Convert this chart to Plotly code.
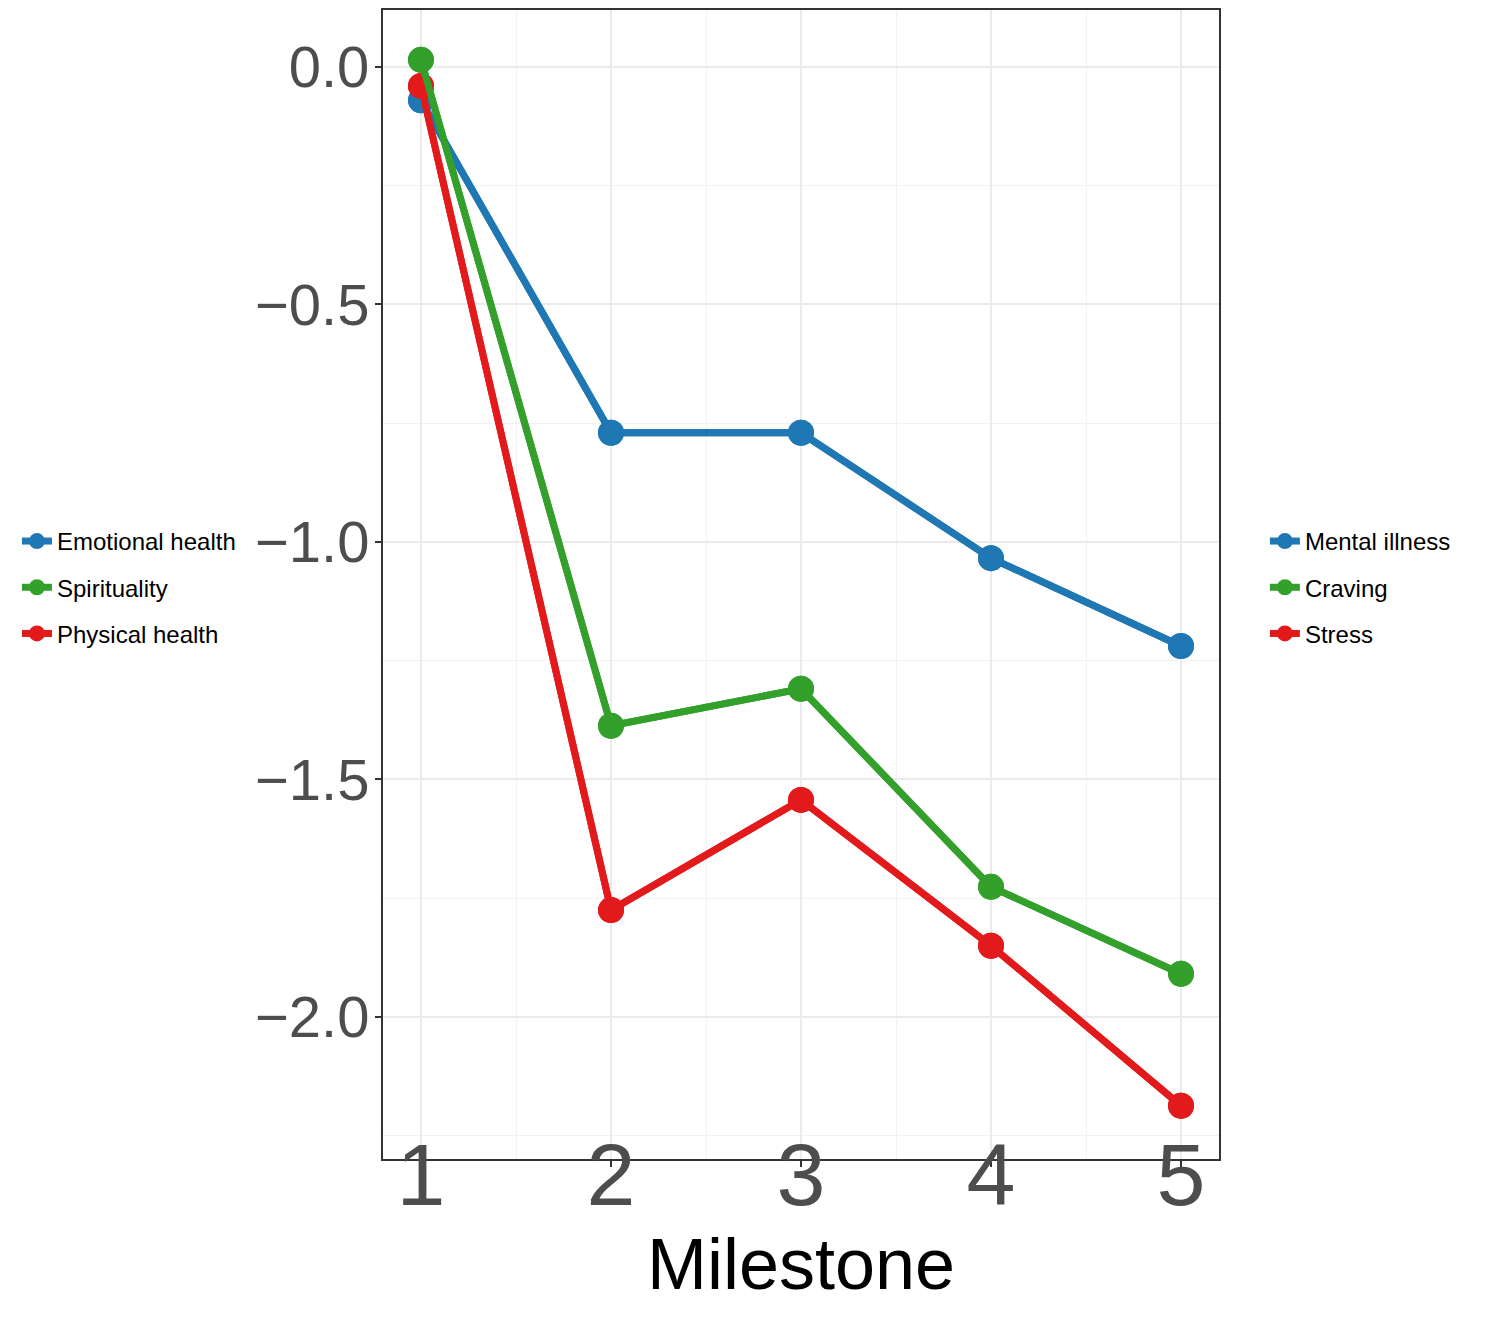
import plotly.graph_objects as go

milestones = [1, 2, 3, 4, 5]
blue_vals = [-0.07, -0.77, -0.77, -1.034, -1.219]
green_vals = [0.015, -1.387, -1.309, -1.726, -1.909]
red_vals = [-0.04, -1.775, -1.543, -1.85, -2.187]

left_names = ["Emotional health", "Spirituality", "Physical health"]
right_names = ["Mental illness", "Craving", "Stress"]
colors = ["#1f78b4", "#33a02c", "#e31a1c"]
values = [blue_vals, green_vals, red_vals]

y_ticks = [0.0, -0.5, -1.0, -1.5, -2.0]
y_tick_text = ["0.0", "\u22120.5", "\u22121.0", "\u22121.5", "\u22122.0"]

fig = go.Figure()
draw_order = [0, 2, 1]
for legend_id, names in (("legend2", right_names), ("legend", left_names)):
    for i in draw_order:
        fig.add_trace(go.Scatter(
            x=milestones, y=values[i], name=names[i], mode="lines+markers",
            line=dict(color=colors[i], width=7),
            marker=dict(color=colors[i], size=26),
            legend=legend_id, legendrank=i + 1, legendgroup=names[i],
        ))

W, H = 1491, 1311
font_family = "Liberation Sans, Arial"
fig.update_layout(
    width=W, height=H,
    paper_bgcolor="white", plot_bgcolor="white",
    margin=dict(l=375, r=280, t=2, b=160),
    font=dict(family=font_family),
    legend=dict(xref="container", yref="container", x=0.006, y=0.558,
                xanchor="left", yanchor="middle",
                font=dict(size=24, color="black"), tracegroupgap=12,
                traceorder="grouped",
                itemwidth=30, bgcolor="rgba(0,0,0,0)"),
    legend2=dict(xref="container", yref="container", x=0.843, y=0.558,
                 xanchor="left", yanchor="middle",
                 font=dict(size=24, color="black"), tracegroupgap=12,
                 traceorder="grouped",
                 itemwidth=30, bgcolor="rgba(0,0,0,0)"),
    xaxis=dict(
        range=[0.8, 5.2], tickvals=milestones, ticktext=[str(m) for m in milestones],
        tickfont=dict(size=88, color="#4d4d4d"),
        ticks="outside", ticklen=6, tickcolor="#333333", tickwidth=2,
        ticklabelstandoff=-68,
        showgrid=True, gridcolor="#ebebeb", gridwidth=2,
        minor=dict(dtick=0.5, tick0=0.5, showgrid=True, gridcolor="#f2f2f2", gridwidth=1),
        showline=True, linecolor="#333333", linewidth=2, mirror=True,
        zeroline=False, automargin=False,
        title=dict(text="Milestone", font=dict(size=72, color="black"), standoff=14),
    ),
    yaxis=dict(
        range=[-2.299, 0.12], tickvals=y_ticks, ticktext=y_tick_text,
        tickfont=dict(size=58, color="#4d4d4d"),
        ticks="outside", ticklen=6, tickcolor="#333333", tickwidth=2,
        ticklabelstandoff=-6,
        showgrid=True, gridcolor="#ebebeb", gridwidth=2,
        minor=dict(dtick=0.25, tick0=0.25, showgrid=True, gridcolor="#f2f2f2", gridwidth=1),
        showline=True, linecolor="#333333", linewidth=2, mirror=True,
        zeroline=False, automargin=False,
    ),
)

fig.write_html("out.html")
